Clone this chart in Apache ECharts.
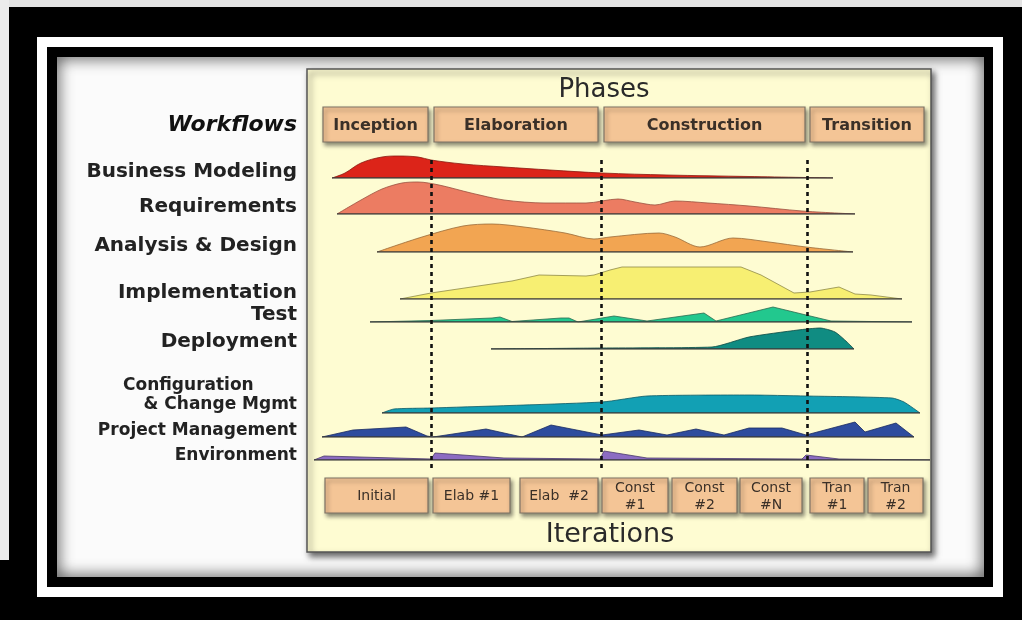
<!DOCTYPE html>
<html>
<head>
<meta charset="utf-8">
<script src="https://cdn.jsdelivr.net/npm/echarts@6/dist/echarts.min.js"></script>
<style>
  html, body { margin: 0; padding: 0; background: #000; }
  #chart { width: 1022px; height: 620px; }
</style>
</head>
<body>
<div id="chart"></div>
<script>
// RUP hump chart — workflows vs phases / iterations

// --- data (x in time units 0..124, h = effort height) ---
const X_MAX = 124;

const phaseNames = ['Inception', 'Elaboration', 'Construction', 'Transition'];
const phaseSpans = [[2.6, 23.6], [24.8, 57.6], [58.8, 99.0], [100, 122.8]];

const iterationNames = ['Initial', 'Elab #1', 'Elab  #2', 'Const\n#1', 'Const\n#2', 'Const\n#N', 'Tran\n#1', 'Tran\n#2'];
const iterationSpans = [[3, 23.6], [24.6, 40], [42, 57.6], [58.4, 71.6], [72.4, 85.4], [86, 98.4], [100, 110.8], [111.6, 122.6]];

const phaseBoundaries = [24.2, 58.2, 99.4];

const workflowNames = ['Business Modeling', 'Requirements', 'Analysis & Design', 'Implementation', 'Test',
  'Deployment', 'Configuration\n& Change Mgmt', 'Project Management', 'Environment'];

const businessModeling = [[4.4, 0], [7, 5], [10.2, 15], [14.4, 21], [17.6, 22], [21.6, 21], [24.2, 18], [30.6, 14],
  [38.8, 11], [48, 8], [58.4, 5], [71.4, 3], [87.8, 1.5], [104.6, 0]];
const requirements = [[5.4, 0], [10.2, 14], [14.4, 25], [18.4, 31], [21.6, 32], [25.8, 29], [32.2, 21], [38.8, 14],
  [47, 11], [55.2, 11], [61.6, 15], [65, 12], [69, 9], [73, 13], [79.6, 11], [87.8, 8], [98.4, 3], [109, 0]];
const analysisDesign = [[13.4, 0], [22.4, 15], [30.6, 26], [36.4, 28], [42.8, 25], [51, 19], [56.8, 13], [60, 15],
  [69.8, 19], [73, 15], [78, 5], [84.6, 14], [91.8, 10], [99.2, 5], [108.6, 0]];
const implementation = [[18, 0], [24.2, 6], [40.4, 18], [45.8, 24], [55.2, 23], [56.8, 24], [60, 29], [62.4, 32],
  [86.2, 32], [90.2, 24], [96.8, 6], [100, 7], [105.8, 12], [109, 5], [112.2, 4], [118.4, 0]];
const test = [[12, 0], [24.2, 1.5], [36.4, 4], [38, 5], [40.4, 0.5], [50.2, 4], [51.8, 4], [53.6, 0], [60.8, 6],
  [67.4, 1], [78.8, 9], [81.2, 1], [92.6, 15], [99.2, 7], [104.2, 1], [120.4, 0]];
const deployment = [[36.2, 0], [58.4, 1], [80.4, 2], [87.8, 12], [97.6, 19], [102, 21], [105, 17], [107.4, 7], [108.8, 0]];
const configMgmt = [[14.4, 0], [16.8, 4], [24.2, 5], [58.4, 11], [67.4, 17], [87.8, 18], [99.2, 17], [116.4, 15],
  [118.8, 11], [122, 0]];
const projectMgmt = [[2.4, 0], [8.6, 7], [19.2, 10], [23.4, 1], [24.6, 0], [35.2, 8], [42.4, 0], [48.2, 12], [58.4, 2],
  [65.8, 7], [71.4, 2], [77.2, 8], [82.8, 2], [87.8, 9], [94.4, 9], [99.2, 2], [109, 15], [111, 5], [117.2, 14], [120.8, 0]];
const environment = [[0.8, 0], [2.8, 4], [24.2, 1], [25, 7], [38.8, 2], [58, 1], [58.8, 9], [67.4, 2], [98.4, 1],
  [99.2, 5], [105.8, 1], [124, 0]];

const workflowData = [businessModeling, requirements, analysisDesign, implementation, test,
  deployment, configMgmt, projectMgmt, environment];

// --- layout / style ---
const PLOT_LEFT = 310, PLOT_W = 620, HUMP_H = 40;
const baselines = [178, 214, 252, 299, 322, 349, 413, 437, 460];
const labelY = [172, 207, 246, 293, 315, 342, 405, 431, 456];
const labelSize = [20, 20, 20, 20, 20, 20, 17, 17, 17];
const colors = ['#dc2419', '#ec7c62', '#f2a552', '#f7ef72', '#22c88e', '#108c82', '#12a0b4', '#2e4c9e', '#8c6cc2'];
const outline = ['#8a1a12', '#9a5040', '#9a6a3a', '#8f8a48', '#2a6a50', '#0c4a44', '#0c5a66', '#1a2a60', '#4a3a6a'];
const smoothing = [0.35, 0.3, 0.3, 0, 0, 0.2, 0.2, 0, 0];
const FONT = '"DejaVu Sans", Verdana, sans-serif';

const grids = [], xAxes = [], yAxes = [], series = [];

function addGrid(top, height, yMax) {
  const i = grids.length;
  grids.push({ left: PLOT_LEFT, width: PLOT_W, top, height });
  xAxes.push({ gridIndex: i, type: 'value', min: 0, max: X_MAX, show: false });
  yAxes.push({ gridIndex: i, type: 'value', min: 0, max: yMax, show: false });
  return i;
}

workflowData.forEach((d, k) => {
  const gi = addGrid(baselines[k] - HUMP_H, HUMP_H, HUMP_H);
  series.push({
    type: 'line', xAxisIndex: gi, yAxisIndex: gi, data: d, showSymbol: false, silent: true,
    smooth: smoothing[k], z: 3,
    lineStyle: { color: outline[k], width: 1, opacity: 0.8 },
    areaStyle: { color: colors[k], opacity: 1 },
  });
  // baseline under each hump
  series.push({
    type: 'line', xAxisIndex: gi, yAxisIndex: gi, showSymbol: false, silent: true, z: 4,
    data: [[d[0][0], 0], [d[d.length - 1][0], 0]],
    lineStyle: { color: '#3a3a3a', width: 1.5 },
  });
});

// dashed phase boundaries
const gDash = addGrid(158, 310, 1);
series.push({
  type: 'line', xAxisIndex: gDash, yAxisIndex: gDash, data: [[0, 0]], showSymbol: false, silent: true, z: 10,
  lineStyle: { opacity: 0 },
  markLine: {
    symbol: ['none', 'none'], silent: true, animation: false,
    label: { show: false },
    lineStyle: { type: [4, 4], width: 2.6, color: '#111', opacity: 1 },
    data: phaseBoundaries.map(v => ({ xAxis: v })),
  },
});

function boxSeries(gi, spans, names, font, lineHeight) {
  return {
    type: 'custom', xAxisIndex: gi, yAxisIndex: gi, silent: true, z: 5,
    data: spans.map(s => [s[0], s[1]]),
    encode: { x: [0, 1] },
    renderItem(params, api) {
      const p0 = api.coord([api.value(0), 1]);
      const p1 = api.coord([api.value(1), 0]);
      const w = p1[0] - p0[0], h = p1[1] - p0[1];
      return {
        type: 'group',
        children: [
          {
            type: 'rect', shape: { x: p0[0], y: p0[1], width: w, height: h },
            style: {
              fill: '#f4c596', stroke: '#7d7264', lineWidth: 1.2,
              shadowBlur: 4, shadowOffsetX: 2, shadowOffsetY: 3, shadowColor: 'rgba(0,0,0,0.45)',
            },
          },
          {
            type: 'text',
            style: {
              text: names[params.dataIndex], x: p0[0] + w / 2, y: p0[1] + h / 2 + 1,
              align: 'center', verticalAlign: 'middle', textAlign: 'center', textVerticalAlign: 'middle',
              font, lineHeight, fill: '#3a3028',
            },
          },
        ],
      };
    },
  };
}

const gPhase = addGrid(107, 35, 1);
series.push(boxSeries(gPhase, phaseSpans, phaseNames, 'bold 16px ' + FONT, 18));
const gIter = addGrid(478, 35, 1);
series.push(boxSeries(gIter, iterationSpans, iterationNames, '14px ' + FONT, 17));

// --- frame, panel and texts ---
function txt(text, x, y, opts = {}) {
  return {
    type: 'text', z: 20,
    style: Object.assign({
      text, x, y, fill: '#222', font: 'bold 19px ' + FONT,
      align: 'right', textAlign: 'right', verticalAlign: 'middle', textVerticalAlign: 'middle',
    }, opts),
  };
}

const graphics = [
  { type: 'rect', z: 0, shape: { x: 57, y: 57, width: 927, height: 520 }, style: { fill: '#fbfbfb' } },
  {
    type: 'rect', z: 0, shape: { x: 52, y: 52, width: 937, height: 530 },
    style: { fill: null, stroke: '#000', lineWidth: 10, shadowBlur: 16, shadowColor: 'rgba(0,0,0,0.85)' },
  },
  { type: 'rect', z: 0, shape: { x: 42, y: 42, width: 956, height: 550 }, style: { fill: null, stroke: '#fff', lineWidth: 10 } },
  { type: 'rect', z: 0, shape: { x: 0, y: 0, width: 1022, height: 7 }, style: { fill: '#e4e4e4' } },
  { type: 'rect', z: 0, shape: { x: 0, y: 0, width: 9, height: 560 }, style: { fill: '#ececec' } },
  {
    type: 'rect', z: 0, shape: { x: 307, y: 69, width: 624, height: 483 },
    style: {
      fill: '#fefcd2', stroke: '#555', lineWidth: 1.5,
      shadowBlur: 6, shadowOffsetX: 3, shadowOffsetY: 4, shadowColor: 'rgba(0,0,0,0.6)',
    },
  },
  txt('Phases', 604, 90, { align: 'center', textAlign: 'center', font: '26px ' + FONT, fill: '#2a2a2a' }),
  txt('Iterations', 610, 535, { align: 'center', textAlign: 'center', font: '27px ' + FONT, fill: '#2a2a2a' }),
  txt('Workflows', 297, 125, { font: 'italic bold 22px ' + FONT, fill: '#111' }),
];

workflowNames.forEach((name, k) => {
  const font = 'bold ' + labelSize[k] + 'px ' + FONT;
  if (name.includes('\n')) {
    const [a, b] = name.split('\n');
    graphics.push(txt(a, 123, labelY[k] - 19, { align: 'left', textAlign: 'left', font }));
    graphics.push(txt(b, 297, labelY[k], { font }));
  } else {
    graphics.push(txt(name, 297, labelY[k], { font }));
  }
});

const chart = echarts.init(document.getElementById('chart'));
chart.setOption({
  backgroundColor: '#000',
  animation: false,
  grid: grids,
  xAxis: xAxes,
  yAxis: yAxes,
  series,
  graphic: { elements: graphics },
});
</script>
</body>
</html>
